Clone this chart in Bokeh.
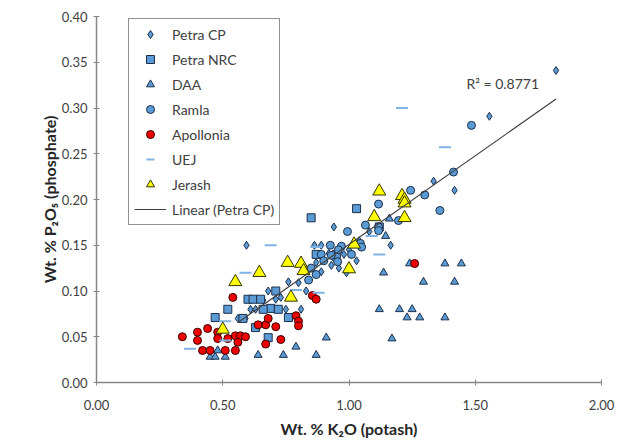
from bokeh.plotting import figure
from bokeh.models import Range1d, Legend, LegendItem, Label, FixedTicker, NumeralTickFormatter
from bokeh.embed import file_html
from bokeh.resources import INLINE
import numpy as np

# ---- data ----
petra_cp_x = [0.56, 0.59, 0.61, 0.63, 0.594, 0.71, 0.73, 0.75, 0.81, 0.76, 0.80, 0.83, 0.863, 0.89,
              0.87, 0.89, 0.92, 0.94, 0.93, 0.94, 0.96, 0.98, 1.00, 1.01, 1.04, 1.165, 1.335, 1.418,
              1.556, 1.82, 0.68, 0.66, 1.08, 0.99, 1.03]
petra_cp_y = [0.070, 0.070, 0.080, 0.080, 0.150, 0.091, 0.093, 0.080, 0.080, 0.110, 0.109, 0.100, 0.150, 0.150,
              0.131, 0.121, 0.141, 0.136, 0.128, 0.170, 0.125, 0.140, 0.145, 0.140, 0.155, 0.150, 0.220, 0.210,
              0.291, 0.341, 0.100, 0.090, 0.165, 0.120, 0.133]

petra_nrc_x = [0.85, 1.03, 0.71, 0.60, 0.62, 0.65, 0.52, 0.47, 0.69, 0.76, 0.68, 0.66, 0.72, 1.12, 0.95, 0.58, 0.87, 0.63]
petra_nrc_y = [0.180, 0.190, 0.100, 0.091, 0.091, 0.091, 0.080, 0.071, 0.081, 0.071, 0.049, 0.080, 0.080, 0.170, 0.140, 0.070, 0.140, 0.060]

daa_x = [0.45, 0.47, 0.51, 0.48, 0.64, 0.74, 0.79, 0.87, 0.91, 1.12, 1.20, 1.25, 1.23, 1.28, 1.38, 1.17,
         1.24, 1.38, 1.445, 1.137, 1.295, 1.418, 1.145, 1.16]
daa_y = [0.028, 0.028, 0.028, 0.035, 0.030, 0.030, 0.039, 0.030, 0.049, 0.080, 0.080, 0.080, 0.071, 0.071, 0.071, 0.048,
         0.130, 0.130, 0.130, 0.120, 0.110, 0.110, 0.160, 0.179]

ramla_x = [1.485, 1.414, 1.30, 1.36, 1.244, 1.117, 1.065, 1.117, 1.117, 1.196, 0.994, 0.97, 1.045, 0.926,
           0.958, 0.89, 0.93, 1.01, 1.05, 0.955, 0.85, 0.84, 0.87, 0.90]
ramla_y = [0.281, 0.230, 0.205, 0.188, 0.210, 0.195, 0.172, 0.170, 0.166, 0.177, 0.165, 0.149, 0.152, 0.150,
           0.145, 0.140, 0.139, 0.140, 0.148, 0.132, 0.125, 0.112, 0.118, 0.133]

apollonia_x = [0.34, 0.40, 0.40, 0.44, 0.42, 0.45, 0.48, 0.48, 0.51, 0.55, 0.52, 0.55, 0.57, 0.59, 0.56, 0.54,
               0.64, 0.67, 0.68, 0.71, 0.73, 0.67, 0.79, 0.80, 0.80, 0.855, 0.87, 1.26]
apollonia_y = [0.050, 0.055, 0.046, 0.059, 0.035, 0.035, 0.055, 0.048, 0.035, 0.035, 0.048, 0.051, 0.051, 0.050, 0.044, 0.093,
               0.063, 0.063, 0.070, 0.061, 0.047, 0.042, 0.073, 0.067, 0.062, 0.095, 0.091, 0.130]

uej_x = [1.21, 1.38, 1.09, 1.12, 0.69, 0.59, 0.88, 0.79, 0.51, 0.51, 0.37, 0.87]
uej_y = [0.300, 0.257, 0.160, 0.140, 0.150, 0.120, 0.098, 0.101, 0.067, 0.046, 0.037, 0.148]

jerash_x = [0.50, 0.55, 0.645, 0.757, 0.81, 0.82, 0.77, 1.00, 1.02, 1.10, 1.12, 1.21, 1.22, 1.22, 1.22]
jerash_y = [0.058, 0.110, 0.120, 0.131, 0.130, 0.122, 0.093, 0.124, 0.151, 0.181, 0.209, 0.204, 0.200, 0.196, 0.180]

x_ticks = [0.0, 0.5, 1.0, 1.5, 2.0]
y_ticks = [0.0, 0.05, 0.10, 0.15, 0.20, 0.25, 0.30, 0.35, 0.40]
r2_text = "R\u00b2 = 0.8771"

# ---- figure ----
FONT = "Lato"
TXT = "#404040"
BLUE = "#5B9BD5"
EDGE = "#1c2f4a"

p = figure(width=615, height=440, output_backend="svg", toolbar_location=None,
           x_range=Range1d(0, 2), y_range=Range1d(0, 0.4),
           min_border_left=96, min_border_right=14, min_border_top=16, min_border_bottom=46)
p.outline_line_color = None
p.xgrid.grid_line_color = None
p.ygrid.grid_line_color = None
p.background_fill_color = "white"

for ax in (p.xaxis[0], p.yaxis[0]):
    ax.axis_line_color = "#868686"
    ax.axis_line_width = 1.5
    ax.major_tick_line_color = "#868686"
    ax.major_tick_in = 3
    ax.major_tick_out = 3
    ax.minor_tick_line_color = None
    ax.major_label_text_font = FONT
    ax.major_label_text_font_size = "13px"
    ax.major_label_text_color = TXT
    ax.axis_label_text_font = FONT
    ax.axis_label_text_font_size = "16px"
    ax.axis_label_text_font_style = "bold"
    ax.axis_label_text_color = "#262626"
    ax.formatter = NumeralTickFormatter(format="0.00")

p.xaxis.ticker = FixedTicker(ticks=x_ticks)
p.yaxis.ticker = FixedTicker(ticks=y_ticks)
p.xaxis.axis_label = "Wt. % K\u2082O (potash)"
p.yaxis.axis_label = "Wt. % P\u2082O\u2085 (phosphate)"
p.xaxis.major_label_standoff = 14
p.yaxis.major_label_standoff = 6
p.xaxis.axis_label_standoff = 6
p.yaxis.axis_label_standoff = 0

r_cp = p.scatter(petra_cp_x, petra_cp_y, marker="diamond", size=8, fill_color=BLUE, line_color=EDGE, line_width=1)
r_nrc = p.scatter(petra_nrc_x, petra_nrc_y, marker="square", size=8, fill_color=BLUE, line_color=EDGE, line_width=1)
r_daa = p.scatter(daa_x, daa_y, marker="triangle", size=8, fill_color=BLUE, line_color=EDGE, line_width=1)
r_ram = p.scatter(ramla_x, ramla_y, marker="circle", size=8, fill_color=BLUE, line_color=EDGE, line_width=1)
r_apo = p.scatter(apollonia_x, apollonia_y, marker="circle", size=8, fill_color="#ee0000", line_color="#3a0000", line_width=1)
r_uej = p.scatter(uej_x, uej_y, marker="dash", size=12, line_color="#7fb2e5", line_width=2)
r_jer = p.scatter(jerash_x, jerash_y, marker="triangle", size=13, fill_color="#ffff00", line_color="#333300", line_width=1)

# linear fit of Petra CP
cx = np.array(petra_cp_x)
cy = np.array(petra_cp_y)
m, b = np.polyfit(cx, cy, 1)
lx = [cx.min(), cx.max()]
ly = [m * v + b for v in lx]
r_lin = p.line(lx, ly, line_color="#404040", line_width=1.2)

p.add_layout(Label(x=1.465, y=0.327, text=r2_text, text_font=FONT, text_font_size="14px",
                   text_color=TXT, text_baseline="middle"))

legend = Legend(items=[
    LegendItem(label="Petra CP", renderers=[r_cp]),
    LegendItem(label="Petra NRC", renderers=[r_nrc]),
    LegendItem(label="DAA", renderers=[r_daa]),
    LegendItem(label="Ramla", renderers=[r_ram]),
    LegendItem(label="Apollonia", renderers=[r_apo]),
    LegendItem(label="UEJ", renderers=[r_uej]),
    LegendItem(label="Jerash", renderers=[r_jer]),
    LegendItem(label="Linear (Petra CP)", renderers=[r_lin]),
], location=(32, 157))
legend.border_line_color = "#222222"
legend.border_line_width = 1.5
legend.label_text_font = FONT
legend.label_text_font_size = "14px"
legend.label_text_color = TXT
legend.glyph_width = 32
legend.glyph_height = 20
legend.label_height = 20
legend.spacing = 5
legend.padding = 5
legend.margin = 0
legend.label_standoff = 6
legend.background_fill_alpha = 1
p.add_layout(legend, "center")

open("out.html", "w").write(file_html(p, INLINE))
